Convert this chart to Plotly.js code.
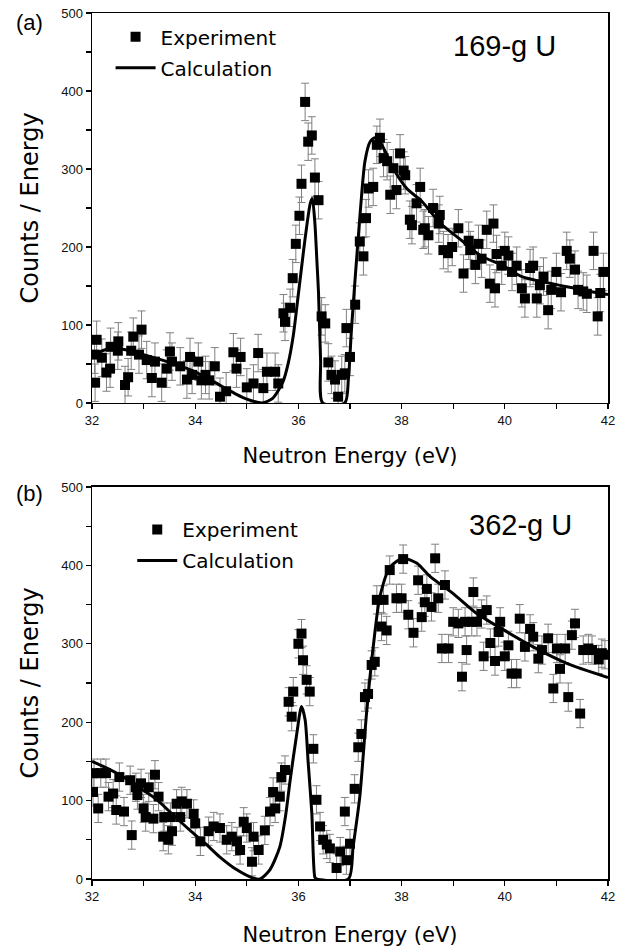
<!DOCTYPE html>
<html><head><meta charset="utf-8">
<script src="https://cdn.plot.ly/plotly-3.0.1.min.js"></script>
<style>html,body{margin:0;padding:0;background:#fff;}</style>
</head><body><div id="c" style="width:629px;height:949px"></div>
<script>
// Panel (a) 169-g U : experiment
const aE = [32.05,32.06,32.09,32.19,32.28,32.35,32.36,32.50,32.51,32.64,32.70,32.76,32.80,32.91,32.96,33.06,33.16,33.22,33.35,33.45,33.51,33.55,33.71,33.84,33.90,33.94,34.06,34.12,34.20,34.27,34.38,34.48,34.60,34.74,34.80,34.88,35.00,35.13,35.22,35.32,35.39,35.55,35.61,35.71,35.74,35.84,35.89,35.95,36.02,36.06,36.13,36.19,36.26,36.32,36.39,36.45,36.52,36.58,36.64,36.71,36.77,36.84,36.90,36.93,37.00,37.10,37.19,37.26,37.31,37.36,37.45,37.52,37.58,37.65,37.72,37.78,37.84,37.90,37.97,38.04,38.07,38.16,38.20,38.29,38.36,38.42,38.45,38.52,38.61,38.72,38.74,38.81,38.90,38.98,39.10,39.20,39.30,39.33,39.43,39.49,39.55,39.65,39.71,39.78,39.81,39.84,39.94,40.00,40.07,40.14,40.23,40.33,40.39,40.49,40.55,40.62,40.68,40.75,40.84,40.90,41.00,41.09,41.20,41.26,41.36,41.42,41.52,41.59,41.72,41.80,41.85,41.91];
const aV = [62,26,81,58,39,44,72,67,79,23,33,67,85,62,94,55,32,53,26,44,66,53,47,30,59,36,53,29,36,29,47,8,15,65,44,59,20,25,64,19,40,40,25,115,104,122,160,204,240,281,386,335,343,289,260,111,102,52,36,30,8,36,38,96,59,126,207,188,237,275,277,331,340,314,310,267,301,273,320,298,292,235,228,256,277,222,224,215,250,230,241,196,192,200,224,166,208,196,177,204,185,222,153,230,147,191,176,195,189,168,176,147,134,173,176,134,151,162,119,145,168,142,195,185,171,145,143,140,195,111,141,168];
// Panel (a) calculation
const aCalcE = [32.0,32.3,32.6,33.0,33.5,34.0,34.5,34.8,35.0,35.3,35.5,35.7,35.8,35.9,36.0,36.1,36.16,36.23,36.27,36.32,36.36,36.39,36.43,36.47,36.9,36.97,37.03,37.1,37.2,37.29,37.39,37.48,37.58,37.87,38.1,38.4,38.74,39.13,39.55,39.94,40.33,40.84,41.36,41.88,42.0];
const aCalcV = [62,69,69,62,52,40,22,11,5,0,6,27,50,86,140,195,226,256,262,230,180,141,55,0,0,32,96,160,246,310,335,340,335,297,275,258,231,210,188,177,162,154,147,140,139];

// Panel (b) 362-g U : experiment
const bE = [32.02,32.04,32.12,32.17,32.27,32.32,32.41,32.47,32.53,32.62,32.74,32.77,32.85,32.88,32.95,33.00,33.04,33.10,33.19,33.22,33.29,33.38,33.40,33.48,33.52,33.55,33.64,33.71,33.74,33.84,33.97,34.00,34.10,34.26,34.36,34.48,34.61,34.71,34.81,34.87,34.94,35.00,35.10,35.13,35.23,35.35,35.45,35.51,35.55,35.64,35.67,35.74,35.81,35.87,35.90,36.00,36.06,36.09,36.16,36.22,36.29,36.35,36.42,36.48,36.55,36.61,36.74,36.81,36.90,36.93,37.00,37.09,37.16,37.22,37.29,37.35,37.42,37.48,37.52,37.61,37.65,37.71,37.77,37.90,38.00,38.03,38.13,38.23,38.32,38.39,38.45,38.49,38.58,38.65,38.71,38.78,38.84,38.91,39.00,39.10,39.17,39.23,39.26,39.36,39.39,39.46,39.55,39.59,39.65,39.72,39.81,39.88,39.91,40.00,40.07,40.13,40.23,40.29,40.39,40.49,40.55,40.65,40.72,40.84,40.94,41.01,41.07,41.17,41.23,41.30,41.36,41.46,41.52,41.62,41.69,41.82,41.88,41.94];
const bV = [111,135,90,135,135,105,109,88,130,86,126,56,117,107,122,90,79,117,77,133,105,54,79,50,79,61,96,79,99,96,83,71,48,61,67,65,50,54,48,37,73,65,22,54,37,62,86,111,90,105,130,139,226,207,239,300,313,279,254,239,166,101,67,50,44,39,14,35,86,24,45,115,168,185,232,236,273,277,356,322,356,317,394,358,358,408,337,314,381,334,353,370,347,409,358,294,375,294,328,326,258,328,292,328,366,328,338,284,343,301,278,315,328,284,298,262,262,332,296,319,309,281,292,307,243,294,268,294,232,311,326,211,292,294,292,280,288,286];
// Panel (b) calculation
const bCalcE = [32.0,32.3,32.61,33.0,33.26,33.6,33.9,34.2,34.48,34.8,35.13,35.26,35.45,35.64,35.75,35.84,35.97,36.06,36.13,36.19,36.26,36.32,36.35,36.97,37.06,37.19,37.32,37.45,37.58,37.78,38.03,38.29,38.55,39.0,39.45,39.97,40.55,41.2,42.0];
const bCalcV = [150,141,130,113,101,80,62,45,28,12,1,0,12,41,80,126,186,220,203,148,84,2,0,0,41,105,211,296,360,398,409,403,386,364,339,318,296,275,257];

const xTicks = [32,33,34,35,36,37,38,39,40,41,42];
const xTickText = ['32','','34','','36','','38','','40','','42'];
const yTicks = [0,50,100,150,200,250,300,350,400,450,500];
const yTickText = ['0','','100','','200','','300','','400','','500'];

const FONT = 'Liberation Sans, Arial, sans-serif';
const WIDE = 'DejaVu Sans, sans-serif';
const expStyle = {mode:'markers', marker:{symbol:'square', size:10, color:'#000'},
  error_y:{type:'constant', color:'#808080', thickness:1, width:4}};
const calcStyle = {mode:'lines', line:{color:'#000', width:3, shape:'spline', smoothing:0.7}};

const traces = [
  Object.assign({}, expStyle, {x:aE, y:aV, name:'Experiment', xaxis:'x', yaxis:'y', legend:'legend', legendgroup:'a1',
    error_y:Object.assign({}, expStyle.error_y, {value:24})}),
  Object.assign({}, calcStyle, {x:aCalcE, y:aCalcV, name:'Calculation', xaxis:'x', yaxis:'y', legend:'legend', legendgroup:'a2'}),
  Object.assign({}, expStyle, {x:bE, y:bV, name:'Experiment', xaxis:'x2', yaxis:'y2', legend:'legend2', legendgroup:'b1',
    error_y:Object.assign({}, expStyle.error_y, {value:18})}),
  Object.assign({}, calcStyle, {x:bCalcE, y:bCalcV, name:'Calculation', xaxis:'x2', yaxis:'y2', legend:'legend2', legendgroup:'b2'})
];

function xax(anchor, standoff){
  return {anchor:anchor, range:[32,42], tickmode:'array', tickvals:xTicks, ticktext:xTickText,
    ticks:'outside', ticklen:5, tickwidth:1.2, tickcolor:'#000', showline:true, linecolor:'#000', linewidth:1.5,
    mirror:true, showgrid:false, zeroline:false, tickfont:{family:FONT, size:13, color:'#111'},
    title:{text:'Neutron Energy (eV)', font:{family:WIDE, size:21, color:'#000'}, standoff:standoff}};
}
function yax(domain, anchor){
  return {domain:domain, anchor:anchor, range:[0,500], tickmode:'array', tickvals:yTicks, ticktext:yTickText,
    ticks:'outside', ticklen:5, tickwidth:1.2, tickcolor:'#000', showline:true, linecolor:'#000', linewidth:1.5,
    mirror:true, showgrid:false, zeroline:false, tickfont:{family:FONT, size:13, color:'#111'},
    title:{text:'Counts / Energy', font:{family:WIDE, size:24, color:'#000'}, standoff:16}};
}
function topAx(over, anchor){
  return {overlaying:over, anchor:anchor, side:'top', range:[32,42], tickmode:'array', tickvals:xTicks,
    ticks:'inside', ticklen:5, tickwidth:1.2, tickcolor:'#000', showticklabels:false, showgrid:false, zeroline:false, showline:false};
}
function rightAx(over, anchor){
  return {overlaying:over, anchor:anchor, side:'right', range:[0,500], tickmode:'array', tickvals:yTicks,
    ticks:'inside', ticklen:5, tickwidth:1.2, tickcolor:'#000', showticklabels:false, showgrid:false, zeroline:false, showline:false};
}

const dA = [0.5497, 1];
const dB = [0, 0.4527];

const layout = {
  width:629, height:949, paper_bgcolor:'#fff', plot_bgcolor:'#fff',
  margin:{l:92, r:21, t:13, b:70},
  xaxis: xax('y', 21), yaxis: yax(dA,'x'),
  xaxis2: xax('y2', 24), yaxis2: yax(dB,'x2'),
  xaxis3: topAx('x','y'), yaxis3: rightAx('y','x'),
  xaxis4: topAx('x2','y2'), yaxis4: rightAx('y2','x2'),
  legend:{x:0.036, y:0.995, xanchor:'left', yanchor:'top', bgcolor:'rgba(0,0,0,0)', font:{family:WIDE, size:20, color:'#000'}, itemwidth:40, tracegroupgap:2, traceorder:'grouped'},
  legend2:{x:0.078, y:0.426, xanchor:'left', yanchor:'top', bgcolor:'rgba(0,0,0,0)', font:{family:WIDE, size:20, color:'#000'}, itemwidth:40, tracegroupgap:2, traceorder:'grouped'},
  annotations:[
    {text:'(a)', xref:'paper', yref:'paper', x:-0.152, y:0.9885, xanchor:'left', yanchor:'middle', showarrow:false, font:{family:FONT, size:22, color:'#000'}},
    {text:'169-g U', xref:'paper', yref:'paper', x:0.80, y:0.962, xanchor:'center', yanchor:'middle', showarrow:false, font:{family:FONT, size:29, color:'#000'}},
    {text:'(b)', xref:'paper', yref:'paper', x:-0.152, y:0.4457, xanchor:'left', yanchor:'middle', showarrow:false, font:{family:FONT, size:22, color:'#000'}},
    {text:'362-g U', xref:'paper', yref:'paper', x:0.83, y:0.409, xanchor:'center', yanchor:'middle', showarrow:false, font:{family:FONT, size:29, color:'#000'}}
  ],
  showlegend:true
};

Plotly.newPlot('c', traces, layout, {staticPlot:true});
</script></body></html>
